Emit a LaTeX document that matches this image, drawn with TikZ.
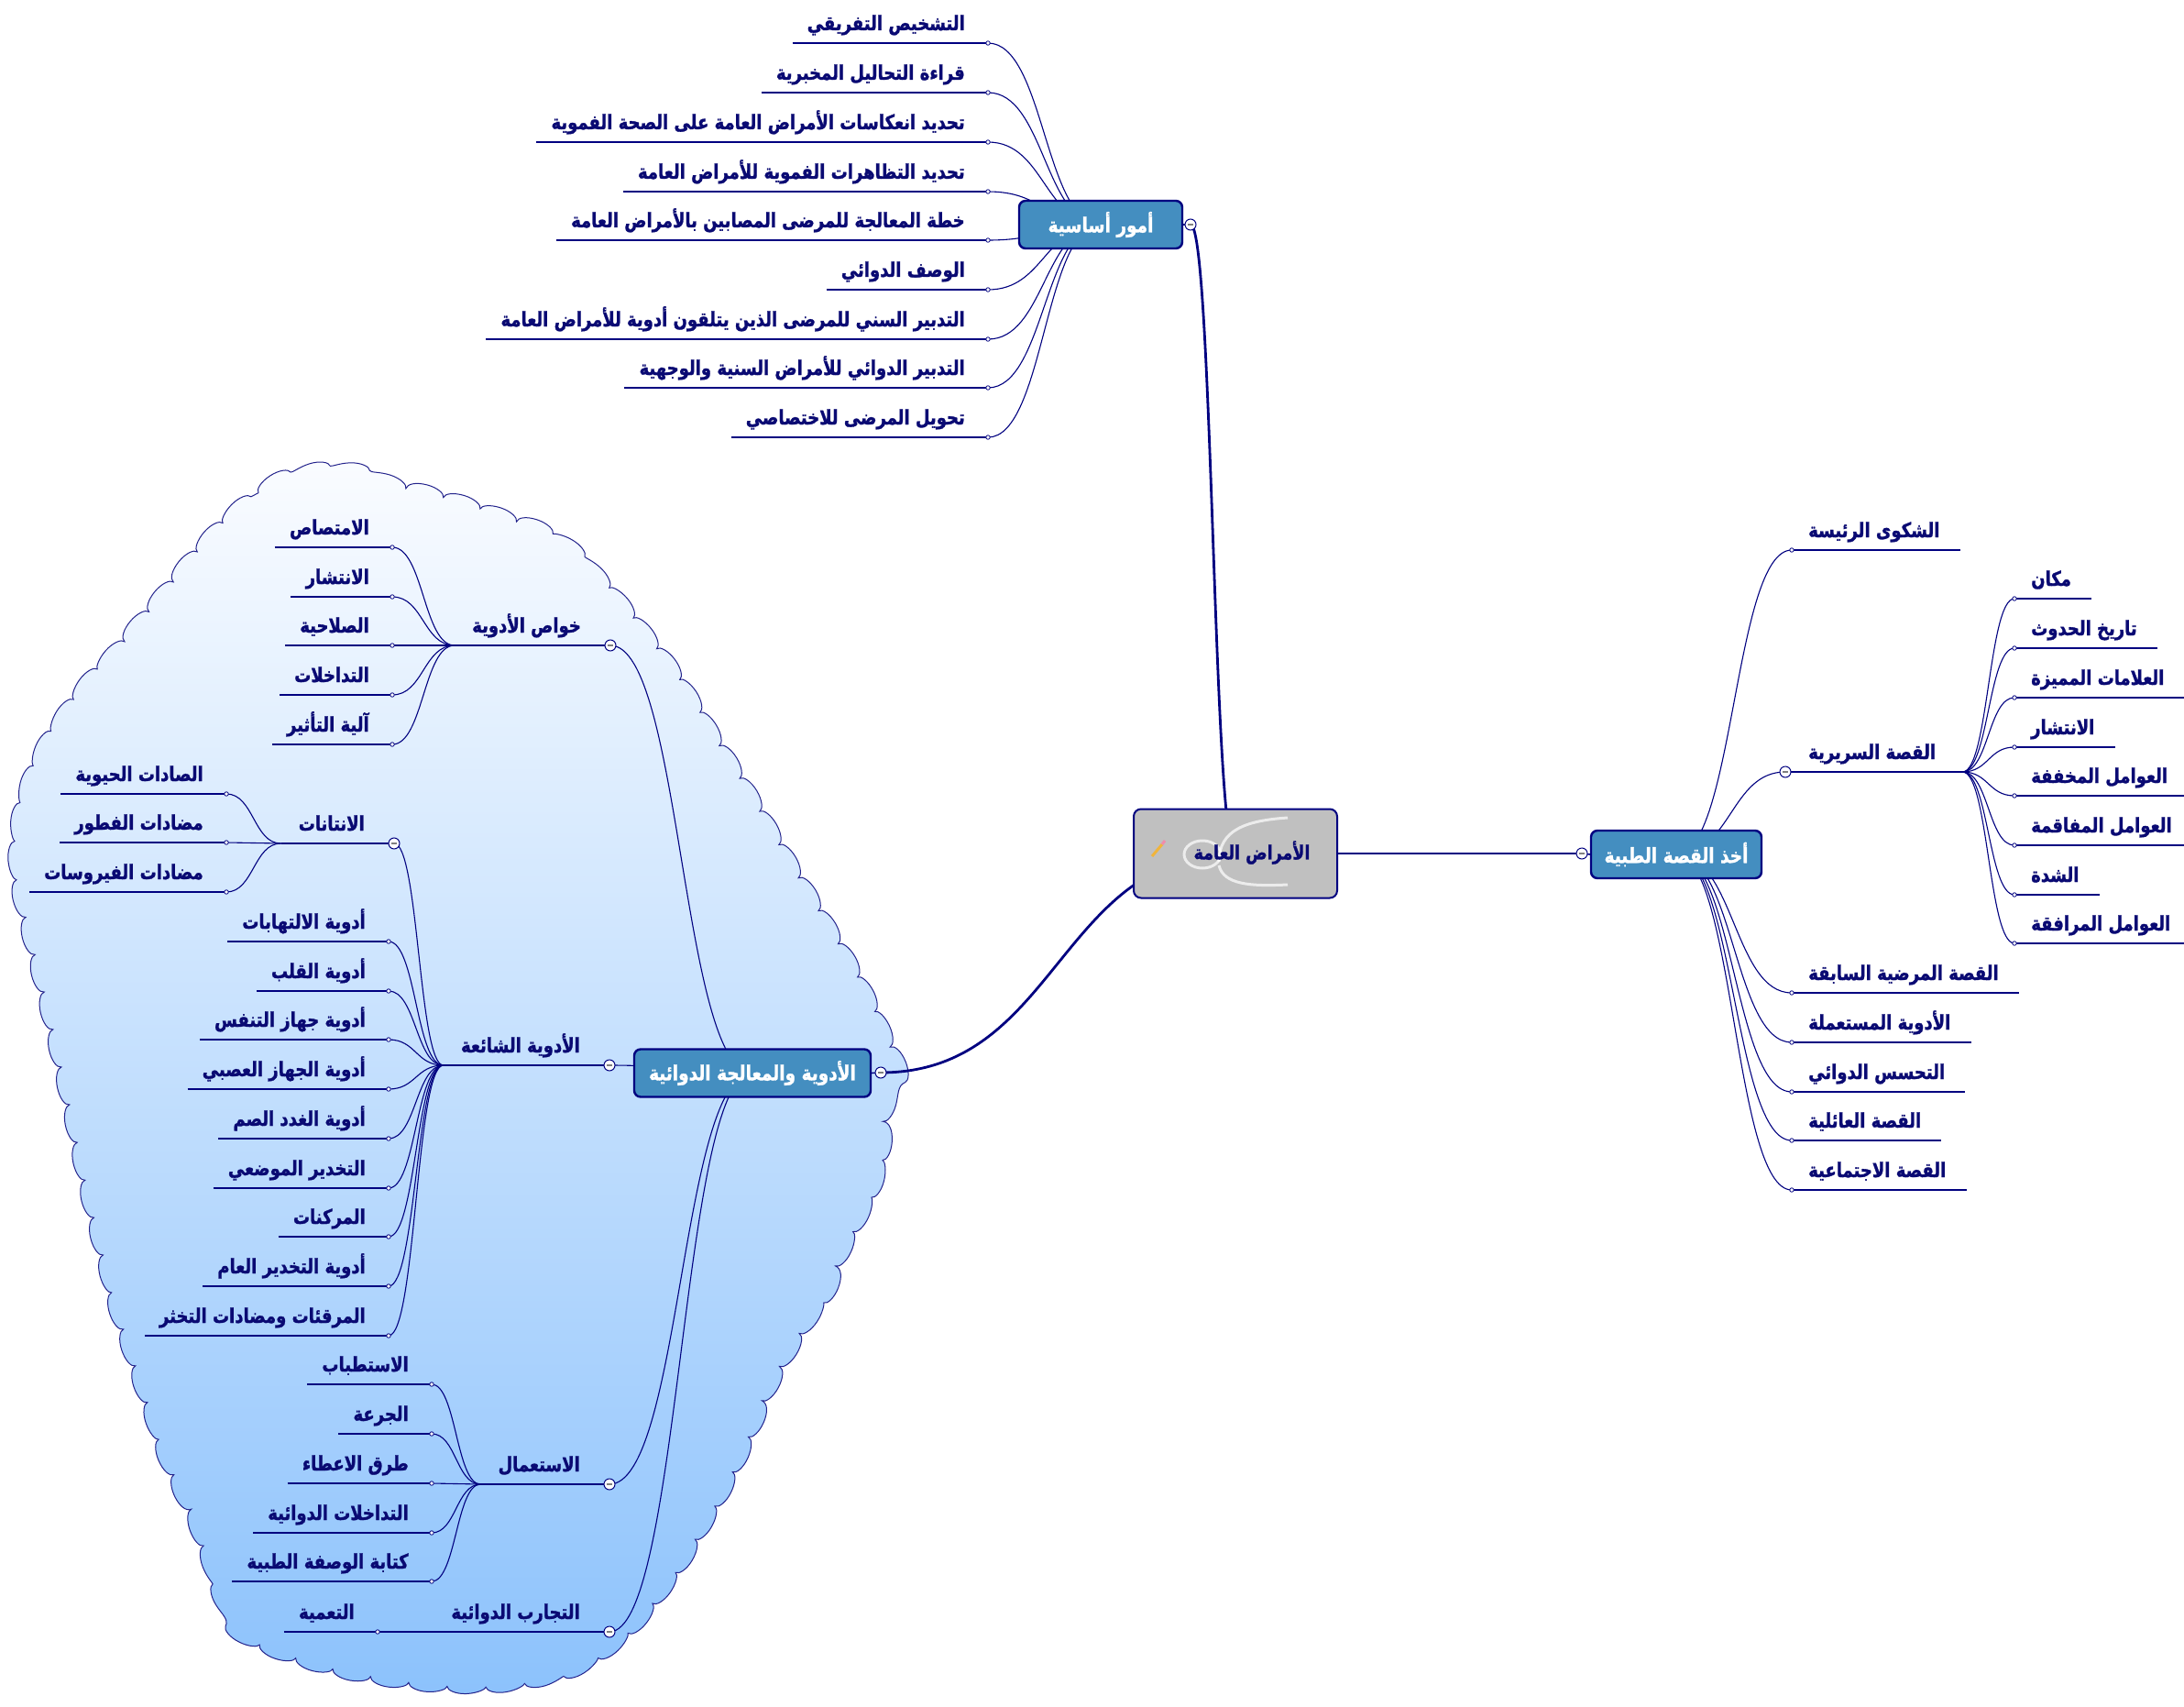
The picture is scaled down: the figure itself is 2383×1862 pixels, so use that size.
\documentclass[tikz,border=0pt]{standalone}
\usepackage{fontspec}
\usepackage{graphicx}
\TeXXeTstate=1
\newfontfamily\arfont[Script=Arabic, BoldFeatures={FakeBold=1.4}]{DejaVu Sans}
\usetikzlibrary{calc,decorations.pathmorphing}
\definecolor{navy}{RGB}{0,0,128}
\definecolor{txt}{RGB}{10,10,115}
\definecolor{steel}{RGB}{68,142,192}
\definecolor{cgray}{RGB}{192,192,192}
\definecolor{ctop}{RGB}{250,252,255}
\definecolor{cbot}{RGB}{140,194,252}
\definecolor{cline}{RGB}{35,35,140}
\definecolor{pencil}{RGB}{240,180,60}
\definecolor{ptip}{RGB}{240,140,170}
\pgfdeclarelayer{cloudl}\pgfdeclarelayer{bgl}\pgfsetlayers{cloudl,bgl,main}
\newcommand\AR[1]{\scalebox{1}[1.22]{\arfont\bfseries #1}}
\tikzset{
 itemtxt/.style={inner sep=0pt, text=txt, font=\fontsize{18}{21}\selectfont},
 uline/.style={draw=navy, line width=2pt},
 conn/.style={draw=navy, line width=1.1pt},
 thickconn/.style={draw=navy, line width=2.8pt},
 dotn/.style={circle, draw=navy, fill=white, line width=0.8pt, inner sep=0pt, minimum size=4.5pt},
 collapse/.style={circle, draw=navy, fill=white, line width=1pt, inner sep=0pt, minimum size=12pt,
   path picture={\draw[gray, line width=1.2pt] ([xshift=-3pt]path picture bounding box.center) -- ([xshift=3pt]path picture bounding box.center);}},
 topicbox/.style={rectangle, rounded corners=7pt, draw=navy, line width=2.4pt, fill=steel, text=white,
   minimum height=52pt, inner xsep=12pt, inner ysep=0pt, font=\fontsize{18.5}{22}\selectfont},
}
\newcommand\sconn[3][conn]{\begin{pgfonlayer}{bgl}\draw[#1] let \p1=(#2), \p2=(#3) in (\p1) .. controls ({0.5*\x1+0.5*\x2},\y1) and ({0.5*\x1+0.5*\x2},\y2) .. (\p2);\end{pgfonlayer}}
\newcommand\Litem[4]{%
 \coordinate (#1d) at (#2,#3);
 \node[itemtxt, anchor=base east] (#1) at ($(#1d)+(-25,-14)$) {\AR{#4}};
 \draw[uline] ($(#1.west |- #1d)+(-16,0)$) -- (#1d);
 \node[dotn] at (#1d) {};}
\newcommand\Ritem[4]{%
 \coordinate (#1d) at (#2,#3);
 \node[itemtxt, anchor=base west] (#1) at ($(#1d)+(18,-14)$) {\AR{#4}};
 \draw[uline] (#1d) -- ($(#1.east |- #1d)+(22,0)$);
 \node[dotn] at (#1d) {};}
\newcommand\Lsub[4]{%
 \coordinate (#1c) at (#2,#3);
 \node[itemtxt, anchor=base east] (#1) at ($(#1c)+(-32,-14)$) {\AR{#4}};
 \coordinate (#1h) at ($(#1.west |- #1c)+(-19,0)$);
 \draw[uline] (#1h) -- (#1c);
 \node[collapse] at (#1c) {};}
\newcommand\Rsub[4]{%
 \coordinate (#1c) at (#2,#3);
 \node[itemtxt, anchor=base west] (#1) at ($(#1c)+(25,-14)$) {\AR{#4}};
 \coordinate (#1h) at ($(#1.east |- #1c)+(29,0)$);
 \draw[uline] (#1c) -- (#1h);
 \node[collapse] at (#1c) {};}
\begin{document}
\begin{tikzpicture}[x=1pt,y=-1pt]
\useasboundingbox (0,0) rectangle (2383,1862);
\begin{pgfonlayer}{cloudl}
\fill[white] (0,0) rectangle (2383,1862);
\path[draw=cline, line width=1pt, top color=ctop, bottom color=cbot, decorate,
  decoration={bumps, segment length=84pt, amplitude=9pt}]
 plot[smooth cycle, tension=0.55] coordinates {
 (238,578) (282,538) (330,518) (380,515) (430,529) (480,542) (530,558) (580,575) (618,597)
 (656,634) (696,682) (736,735) (776,799) (816,864) (856,932) (895,997) (930,1057) (955,1107)
 (977,1160) (967,1210) (963,1255) (950,1300) (928,1345) (904,1405) (878,1445) (849,1495)
 (824,1550) (799,1605) (769,1660) (739,1710) (699,1763) (660,1799) (618,1822) (560,1835)
 (500,1838) (440,1833) (380,1823) (322,1807) (276,1788) (252,1760) (233,1715) (213,1660)
 (188,1605) (168,1550) (148,1490) (130,1435) (113,1370) (96,1300) (80,1225) (66,1160)
 (50,1090) (33,1020) (20,960) (21,900) (33,852) (53,808) (86,758) (126,711) (166,663) (205,615)};
\end{pgfonlayer}

% central node
\node[rectangle, rounded corners=8pt, draw=navy, line width=2pt, fill=cgray, minimum width=222pt, minimum height=97pt, inner sep=0pt] (C) at (1348,931) {};
\draw[white, opacity=.7, line width=3pt] (1330,940) .. controls (1330,905) and (1360,895) .. (1405,892);
\draw[white, opacity=.7, line width=3pt] (1330,944) .. controls (1335,965) and (1365,967) .. (1405,965);
\draw[white, opacity=.7, line width=3pt] (1312,932) ellipse (20 and 15);
\draw[pencil, line width=3pt] (1257,934) -- (1268,921);
\draw[ptip, line width=3pt] (1268,921) -- (1271,917);
\node[text=txt, inner sep=0pt, font=\fontsize{17.5}{21}\selectfont] (Ct) at (1366,930) {\AR{\beginR الأمراض العامة\endR}};

% main topics
\node[topicbox, minimum width=178pt] (T1) at (1201,245) {\AR{\beginR أمور أساسية\endR}};
\node[topicbox, minimum width=186pt] (T2) at (1829,932) {\AR{\beginR أخذ القصة الطبية\endR}};
\node[topicbox, minimum width=258pt] (T3) at (821,1170.5) {\AR{\beginR الأدوية والمعالجة الدوائية\endR}};
\coordinate (T1c) at (1299,245);
\coordinate (T2c) at (1726,931);
\coordinate (T3c) at (961,1170);
\sconn[thickconn]{C.center}{T1c}
\sconn[thickconn]{C.center}{T2c}
\sconn[thickconn]{C.center}{T3c}
\draw[navy, line width=1.5pt] (T1.east) -- (T1c);
\draw[navy, line width=1.5pt] (T2.west) -- (T2c);
\draw[navy, line width=1.5pt] (T3.east) -- (T3c);
\node[collapse] at (T1c) {};
\node[collapse] at (T2c) {};
\node[collapse] at (T3c) {};

% أمور أساسية
\Litem{a1}{1078}{47}{\beginR التشخيص التفريقي\endR}
\Litem{a2}{1078}{101}{\beginR قراءة التحاليل المخبرية\endR}
\Litem{a3}{1078}{155}{\beginR تحديد انعكاسات الأمراض العامة على الصحة الفموية\endR}
\Litem{a4}{1078}{209}{\beginR تحديد التظاهرات الفموية للأمراض العامة\endR}
\Litem{a5}{1078}{262}{\beginR خطة المعالجة للمرضى المصابين بالأمراض العامة\endR}
\Litem{a6}{1078}{316}{\beginR الوصف الدوائي\endR}
\Litem{a7}{1078}{370}{\beginR التدبير السني للمرضى الذين يتلقون أدوية للأمراض العامة\endR}
\Litem{a8}{1078}{423}{\beginR التدبير الدوائي للأمراض السنية والوجهية\endR}
\Litem{a9}{1078}{477}{\beginR تحويل المرضى للاختصاصي\endR}
\foreach \i in {1,...,9}{\sconn{T1.center}{a\i d}}

% أخذ القصة الطبية
\Ritem{b1}{1955}{600}{\beginR الشكوى الرئيسة\endR}
\Rsub{b2}{1948}{842}{\beginR القصة السريرية\endR}
\Ritem{b3}{1955}{1083}{\beginR القصة المرضية السابقة\endR}
\Ritem{b4}{1955}{1137}{\beginR الأدوية المستعملة\endR}
\Ritem{b5}{1955}{1191}{\beginR التحسس الدوائي\endR}
\Ritem{b6}{1955}{1244}{\beginR القصة العائلية\endR}
\Ritem{b7}{1955}{1298}{\beginR القصة الاجتماعية\endR}
\sconn{T2.center}{b1d}
\sconn{T2.center}{b2c}
\foreach \i in {3,...,7}{\sconn{T2.center}{b\i d}}
\Ritem{c1}{2198}{653}{\beginR مكان\endR}
\Ritem{c2}{2198}{707}{\beginR تاريخ الحدوث\endR}
\Ritem{c3}{2198}{761}{\beginR العلامات المميزة\endR}
\Ritem{c4}{2198}{815}{\beginR الانتشار\endR}
\Ritem{c5}{2198}{868}{\beginR العوامل المخففة\endR}
\Ritem{c6}{2198}{922}{\beginR العوامل المفاقمة\endR}
\Ritem{c7}{2198}{976}{\beginR الشدة\endR}
\Ritem{c8}{2198}{1029}{\beginR العوامل المرافقة\endR}
\foreach \i in {1,...,8}{\sconn{b2h}{c\i d}}

% الأدوية والمعالجة الدوائية
\Lsub{s1}{666}{704}{\beginR خواص الأدوية\endR}
\Lsub{s2}{665}{1162}{\beginR الأدوية الشائعة\endR}
\Lsub{s3}{665}{1619}{\beginR الاستعمال\endR}
\Lsub{s4}{665}{1780}{\beginR التجارب الدوائية\endR}
\foreach \i in {1,...,4}{\sconn{T3.center}{s\i c}}

\Litem{p1}{428}{597}{\beginR الامتصاص\endR}
\Litem{p2}{428}{651}{\beginR الانتشار\endR}
\Litem{p3}{428}{704}{\beginR الصلاحية\endR}
\Litem{p4}{428}{758}{\beginR التداخلات\endR}
\Litem{p5}{428}{812}{\beginR آلية التأثير\endR}
\foreach \i in {1,...,5}{\sconn{s1h}{p\i d}}

\Lsub{s5}{430}{920}{\beginR الانتانات\endR}
\sconn{s2h}{s5c}
\Litem{q1}{424}{1027}{\beginR أدوية الالتهابات\endR}
\Litem{q2}{424}{1081}{\beginR أدوية القلب\endR}
\Litem{q3}{424}{1134}{\beginR أدوية جهاز التنفس\endR}
\Litem{q4}{424}{1188}{\beginR أدوية الجهاز العصبي\endR}
\Litem{q5}{424}{1242}{\beginR أدوية الغدد الصم\endR}
\Litem{q6}{424}{1296}{\beginR التخدير الموضعي\endR}
\Litem{q7}{424}{1349}{\beginR المركنات\endR}
\Litem{q8}{424}{1403}{\beginR أدوية التخدير العام\endR}
\Litem{q9}{424}{1457}{\beginR المرقئات ومضادات التخثر\endR}
\foreach \i in {1,...,9}{\sconn{s2h}{q\i d}}

\Litem{r1}{247}{866}{\beginR الصادات الحيوية\endR}
\Litem{r2}{247}{919}{\beginR مضادات الفطور\endR}
\Litem{r3}{247}{973}{\beginR مضادات الفيروسات\endR}
\foreach \i in {1,...,3}{\sconn{s5h}{r\i d}}

\Litem{u1}{471}{1510}{\beginR الاستطباب\endR}
\Litem{u2}{471}{1564}{\beginR الجرعة\endR}
\Litem{u3}{471}{1618}{\beginR طرق الاعطاء\endR}
\Litem{u4}{471}{1672}{\beginR التداخلات الدوائية\endR}
\Litem{u5}{471}{1725}{\beginR كتابة الوصفة الطبية\endR}
\foreach \i in {1,...,5}{\sconn{s3h}{u\i d}}

\Litem{v1}{412}{1780}{\beginR التعمية\endR}
\sconn{s4h}{v1d}
\end{tikzpicture}
\end{document}
